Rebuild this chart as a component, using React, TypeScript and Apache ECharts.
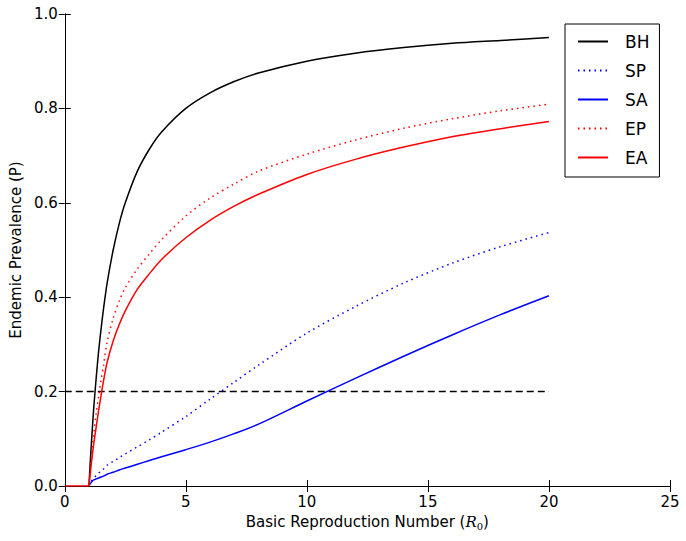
import React, { useEffect, useRef } from "react";
import * as echarts from "echarts";

const r0 = [1, 1.05, 1.1, 1.15, 1.2, 1.3, 1.4, 1.5, 1.6, 1.75, 2, 2.25, 2.5, 3, 3.5, 4, 5, 6, 7, 8, 10, 12, 14, 16, 18, 20];
const bh = [0, 0.048, 0.09, 0.13, 0.167, 0.23, 0.286, 0.333, 0.375, 0.43, 0.5, 0.556, 0.6, 0.667, 0.714, 0.75, 0.8, 0.833, 0.857, 0.875, 0.9, 0.917, 0.929, 0.938, 0.944, 0.95];
const sp = [0, 0.006, 0.01, 0.014, 0.017, 0.022, 0.027, 0.032, 0.036, 0.044, 0.052, 0.06, 0.068, 0.083, 0.098, 0.114, 0.147, 0.184, 0.22, 0.256, 0.324, 0.38, 0.43, 0.472, 0.507, 0.537];
const sa = [0, 0.005, 0.008, 0.011, 0.013, 0.015, 0.017, 0.019, 0.021, 0.025, 0.029, 0.034, 0.038, 0.046, 0.054, 0.062, 0.077, 0.093, 0.111, 0.131, 0.18, 0.228, 0.275, 0.32, 0.363, 0.403];
const ep = [0, 0.035, 0.065, 0.09, 0.112, 0.155, 0.19, 0.225, 0.255, 0.305, 0.355, 0.392, 0.42, 0.46, 0.492, 0.522, 0.572, 0.61, 0.64, 0.667, 0.703, 0.733, 0.758, 0.778, 0.795, 0.809];
const ea = [0, 0.025, 0.048, 0.07, 0.09, 0.126, 0.16, 0.192, 0.222, 0.262, 0.307, 0.342, 0.371, 0.417, 0.45, 0.48, 0.526, 0.563, 0.593, 0.618, 0.66, 0.692, 0.718, 0.74, 0.757, 0.772];
// below R0 = 1 every prevalence is zero
const zeroX = [0, 1];
const zeroY = [0, 0];
const thresholdX = [0, 20];
const thresholdY = [0.2, 0.2];

const FONT = "DejaVu Sans";

export default function App() {
  const ref = useRef<HTMLDivElement>(null);
  useEffect(() => {
    document.body.style.margin = "0";
    const chart = echarts.init(ref.current!, null, { renderer: "svg" });
    const pts = (ys: number[]) => r0.map((x, i) => [x, ys[i]]);
    const line = (name: string, ys: number[], color: string, type: any) => ({
      name,
      type: "line",
      data: pts(ys),
      smooth: 0.3,
      symbol: "none",
      showSymbol: false,
      lineStyle: { color, width: 1.5, type },
      itemStyle: { color },
      z: 3,
    });
    const tickAxisCommon = {
      axisLine: { show: true, lineStyle: { color: "#000", width: 1 } },
      axisTick: { show: true, inside: true, length: 6, lineStyle: { color: "#000" } },
      splitLine: { show: false },
    };
    chart.setOption({
      animation: false,
      backgroundColor: "#fff",
      grid: { left: 61, top: 14, right: 16, bottom: 55, show: false },
      legend: {
        orient: "vertical",
        left: 565,
        top: 24,
        data: ["BH", "SP", "SA", "EP", "EA"],
        itemWidth: 30,
        itemHeight: 14,
        itemGap: 12,
        padding: [9, 10, 11, 12],
        borderColor: "#000",
        borderWidth: 1,
        backgroundColor: "#fff",
        itemStyle: { opacity: 0 },
        textStyle: { fontFamily: FONT, fontSize: 17, color: "#000", padding: [0, 0, 0, 12] },
      },
      xAxis: [
        {
          type: "value",
          min: 0,
          max: 25,
          interval: 5,
          position: "bottom",
          ...tickAxisCommon,
          axisLabel: { fontFamily: FONT, fontSize: 15, color: "#000", margin: 8 },
          name: "{n|Basic Reproduction Number (}{i|R}{s|0}{n|)}",
          nameLocation: "middle",
          nameGap: 27,
          nameTextStyle: {
            rich: {
              n: { fontFamily: FONT, fontSize: 15, color: "#000" },
              i: { fontFamily: "DejaVu Serif", fontStyle: "italic", fontSize: 15, color: "#000" },
              s: { fontFamily: "DejaVu Serif", fontSize: 10, color: "#000", verticalAlign: "bottom", padding: [8, 0, 0, 0] },
            },
          },
        },
        {
          type: "value",
          min: 0,
          max: 25,
          interval: 5,
          position: "top",
          ...tickAxisCommon,
          axisLabel: { show: false },
        },
      ],
      yAxis: [
        {
          type: "value",
          min: 0,
          max: 1,
          interval: 0.2,
          position: "left",
          ...tickAxisCommon,
          axisLabel: {
            fontFamily: FONT,
            fontSize: 15,
            color: "#000",
            margin: 7,
            formatter: (v: number) => v.toFixed(1),
          },
          name: "Endemic Prevalence (P)",
          nameLocation: "middle",
          nameGap: 38,
          nameTextStyle: { fontFamily: FONT, fontSize: 15, color: "#000" },
        },
        {
          type: "value",
          min: 0,
          max: 1,
          interval: 0.2,
          position: "right",
          ...tickAxisCommon,
          axisLabel: { show: false },
        },
      ],
      series: [
        {
          name: "threshold",
          type: "line",
          data: thresholdX.map((x, i) => [x, thresholdY[i]]),
          symbol: "none",
          lineStyle: { color: "#000", width: 1.5, type: [7, 4] },
          z: 2,
        },
        line("BH", bh, "#000000", "solid"),
        line("SP", sp, "#0000ff", [1.5, 4]),
        line("SA", sa, "#0000ff", "solid"),
        line("EP", ep, "#ff0000", [1.5, 4]),
        line("EA", ea, "#ff0000", "solid"),
        {
          name: "zero",
          type: "line",
          data: zeroX.map((x, i) => [x, zeroY[i]]),
          symbol: "none",
          lineStyle: { color: "#ff0000", width: 1.5 },
          z: 3,
        },
      ],
    });
    return () => chart.dispose();
  }, []);
  return <div ref={ref} style={{ width: 686, height: 541 }} />;
}
